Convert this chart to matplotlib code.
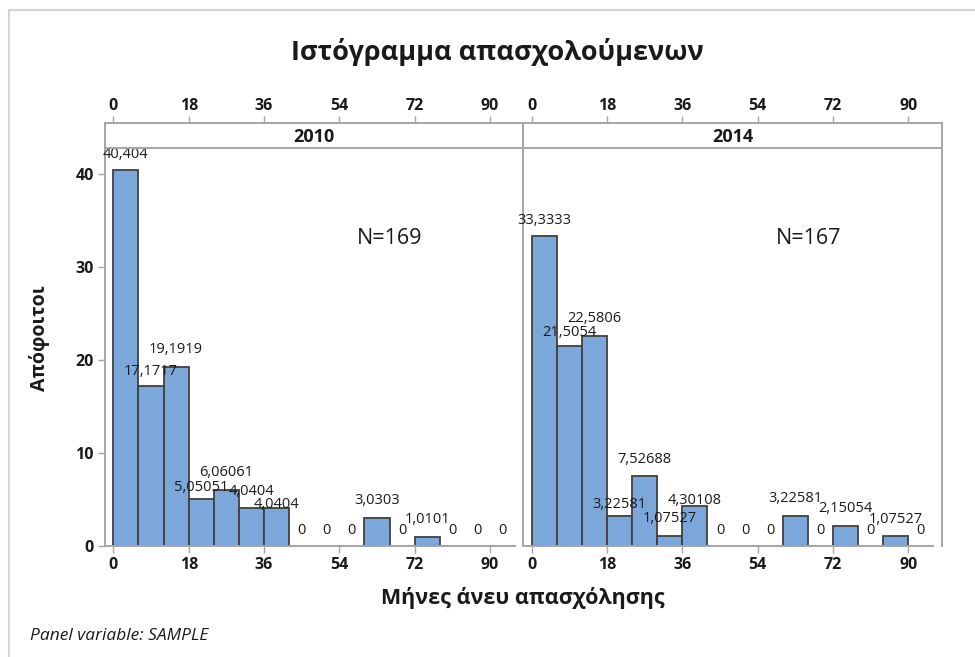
import matplotlib.pyplot as plt
import matplotlib.patches as mpatches
import numpy as np

plt.rcParams['font.family'] = ['Open Sans', 'DejaVu Sans']

# Histogram data (percent per 6-month bin)
bin_edges = np.arange(0, 97, 6)
panels = ['2010', '2014']
counts_n = [169, 167]
pct_2010 = [40.404, 17.1717, 19.1919, 5.05051, 6.06061, 4.0404, 4.0404, 0, 0, 0,
            3.0303, 0, 1.0101, 0, 0, 0]
pct_2014 = [33.3333, 21.5054, 22.5806, 3.22581, 7.52688, 1.07527, 4.30108, 0, 0, 0,
            3.22581, 0, 2.15054, 0, 1.07527, 0]
xticks = [0, 18, 36, 54, 72, 90]
yticks = [0, 10, 20, 30, 40]

# vertical gap (px) between bar top and label centre, as Minitab staggered them
label_gap = [
    [16, 14.5, 17.5, 12, 17.5, 16.7, 4, 15.5, 15.5, 15.5, 17, 15.5, 17, 15.5, 15.5, 15.5],
    [15, 13, 17.6, 11.5, 16.5, 17.4, 5, 15.5, 15.5, 15.5, 17, 15.5, 17.5, 15.5, 16.7, 15.5],
]

W, H = 975, 657
fig = plt.figure(figsize=(W / 100, H / 100), dpi=100)

frame_col = '#A6A6A6'
bar_col = '#7BA7DA'
edge_col = '#404040'
txt_col = '#1a1a1a'

# outer light border (top/left visible only)
fig.patches.append(mpatches.Rectangle((9 / W, -0.1), 1.2, (H - 10) / H + 0.1,
                                      transform=fig.transFigure, fill=False,
                                      ec='#D4D4D4', lw=1.5))

x_left = [105, 523.3]
pw = 418.4
top_px, bot_px, strip_top = 148.3, 546.0, 123.3

def fmt(v):
    return ('%g' % v).replace('.', ',')

for i, (name, vals, n) in enumerate(zip(panels, [pct_2010, pct_2014], counts_n)):
    ax = fig.add_axes([x_left[i] / W, (H - bot_px) / H, pw / W, (bot_px - top_px) / H])
    ax.bar(bin_edges[:-1], vals, width=6, align='edge', color=bar_col,
           edgecolor=edge_col, linewidth=1.3, zorder=2)
    for x0, v, g in zip(bin_edges[:-1], vals, label_gap[i]):
        ax.annotate(fmt(v), (x0 + 3, v), xytext=(0, g * 0.72), textcoords='offset points',
                    ha='center', va='center', fontsize=10.5, color=txt_col,
                    annotation_clip=False, zorder=5)
    ax.set_xlim(-2, 98)
    ax.set_ylim(0, 42.75)
    ax.set_xticks(xticks)
    ax.tick_params(axis='x', length=5, width=1, color=frame_col, pad=3,
                   labelsize=11.5, labelcolor=txt_col)
    for lab in ax.get_xticklabels():
        lab.set_fontweight('bold')
    for s in ax.spines.values():
        s.set_color(frame_col)
        s.set_linewidth(1.4)
    ax.spines['top'].set_visible(False)
    ax.spines['bottom'].set_bounds(-2, 96)
    if i == 0:
        ax.set_yticks(yticks)
        ax.tick_params(axis='y', length=5, width=1, color=frame_col, pad=3,
                       labelsize=11.5, labelcolor=txt_col)
        for lab in ax.get_yticklabels():
            lab.set_fontweight('bold')
    else:
        ax.set_yticks([])
    ax.text(0.681, 0.774, 'N=%d' % n, transform=ax.transAxes, ha='center',
            va='center', fontsize=15.5, color=txt_col)

    # strip with panel name and top axis ticks
    sx = fig.add_axes([x_left[i] / W, (H - top_px) / H, pw / W, (top_px - strip_top) / H])
    sx.set_facecolor('none')
    sx.set_xlim(-2, 98)
    sx.set_ylim(0, 1)
    sx.set_yticks([])
    sx.set_xticks(xticks)
    sx.xaxis.tick_top()
    sx.tick_params(axis='x', length=5, width=1, color=frame_col, pad=2,
                   labelsize=11.5, labelcolor=txt_col)
    for lab in sx.get_xticklabels():
        lab.set_fontweight('bold')
    for s in sx.spines.values():
        s.set_color(frame_col)
        s.set_linewidth(1.4)
    sx.text(0.5, 0.45, name, transform=sx.transAxes, ha='center', va='center',
            fontsize=13, fontweight='bold', color=txt_col)

fig.text(497 / W, 1 - 52 / H, 'Ιστόγραμμα απασχολούμενων', ha='center',
         va='center', fontsize=19.5, fontweight='bold', color=txt_col)
fig.text(523 / W, 1 - 598 / H, 'Μήνες άνευ απασχόλησης', ha='center',
         va='center', fontsize=15.5, fontweight='bold', color=txt_col)
fig.text(40 / W, 1 - 338 / H, 'Απόφοιτοι', ha='center', va='center',
         rotation=90, fontsize=14, fontweight='bold', color=txt_col)
fig.text(30 / W, 1 - 636 / H, 'Panel variable: SAMPLE', ha='left', va='center',
         fontsize=12.5, style='italic', color=txt_col)

fig.savefig('out.png', dpi=100)
